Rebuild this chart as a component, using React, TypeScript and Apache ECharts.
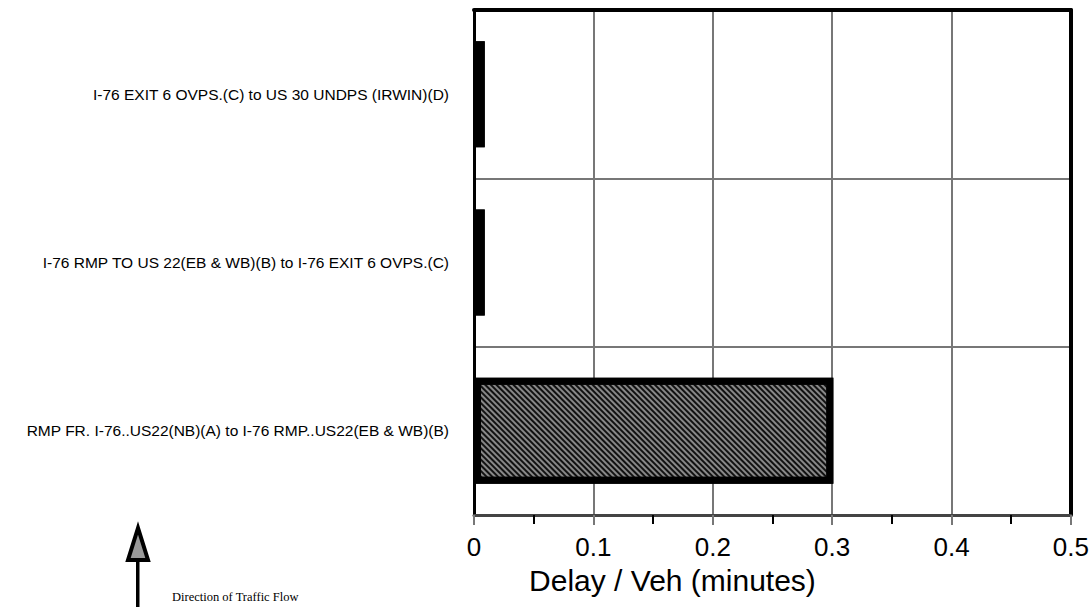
import React, { useEffect, useRef } from "react";
import * as echarts from "echarts";

const categories = [
  "RMP FR. I-76..US22(NB)(A) to I-76 RMP..US22(EB & WB)(B)",
  "I-76 RMP TO US 22(EB & WB)(B) to I-76 EXIT 6 OVPS.(C)",
  "I-76 EXIT 6 OVPS.(C) to US 30 UNDPS (IRWIN)(D)",
];
const delayValues = [0.301, 0.009, 0.009];
const xTicks = [0, 0.1, 0.2, 0.3, 0.4, 0.5];

const SANS = "Liberation Sans, Arial, sans-serif";

export default function App() {
  const ref = useRef<HTMLDivElement>(null);
  useEffect(() => {
    if (!ref.current) return;
    const chart = echarts.init(ref.current, null, { renderer: "svg" });
    chart.setOption({
      animation: false,
      backgroundColor: "#fff",
      grid: { left: 474, right: 19, top: 10, bottom: 92 },
      xAxis: [
        {
          type: "value",
          min: xTicks[0],
          max: xTicks[xTicks.length - 1],
          interval: 0.1,
          name: "Delay / Veh (minutes)",
          nameLocation: "middle",
          nameGap: 50,
          nameTextStyle: { fontSize: 30, color: "#000", fontFamily: SANS, padding: [0, 200, 0, 0] },
          axisLine: { show: true, lineStyle: { color: "#444", width: 3 } },
          axisTick: { show: true, length: 10, lineStyle: { color: "#777", width: 2 } },
          minorTick: { show: true, splitNumber: 2, length: 9, lineStyle: { color: "#000", width: 2 } },
          axisLabel: {
            fontSize: 26,
            color: "#000",
            margin: 19,
            fontFamily: SANS,
            formatter: (v: number) => (v === 0 ? "0" : String(Math.round(v * 10) / 10)),
          },
          splitLine: { show: true, lineStyle: { color: "#777", width: 2 } },
        },
        {
          type: "value",
          position: "top",
          min: xTicks[0],
          max: xTicks[xTicks.length - 1],
          interval: 0.1,
          axisLine: { show: true, onZero: false, lineStyle: { color: "#000", width: 4 } },
          axisTick: { show: false },
          axisLabel: { show: false },
          splitLine: { show: false },
        },
      ],
      yAxis: [
        {
          type: "category",
          data: categories,
          axisLine: { show: true, lineStyle: { color: "#000", width: 3 } },
          axisTick: { show: false },
          axisLabel: { fontSize: 15.5, color: "#000", margin: 25, fontFamily: SANS },
          splitLine: { show: true, lineStyle: { color: "#777", width: 2 } },
        },
        {
          type: "category",
          position: "right",
          data: categories,
          axisLine: { show: true, onZero: false, lineStyle: { color: "#000", width: 4 } },
          axisTick: { show: false },
          axisLabel: { show: false },
          splitLine: { show: false },
        },
      ],
      series: [
        {
          type: "bar",
          data: delayValues,
          barWidth: 106,
          itemStyle: {
            color: "#888",
            borderColor: "#000",
            borderWidth: 7,
            decal: {
              symbol: "rect",
              symbolSize: 1,
              color: "#111",
              dashArrayX: [1, 0],
              dashArrayY: [2, 2],
              rotation: Math.PI / 4,
            },
          },
        },
      ],
      graphic: [
        {
          type: "polygon",
          shape: { points: [[138, 528], [128, 560], [148, 560]] },
          style: { fill: "#999", stroke: "#000", lineWidth: 4 },
        },
        {
          type: "rect",
          shape: { x: 136, y: 561, width: 3.5, height: 46 },
          style: { fill: "#000" },
        },
        {
          type: "text",
          x: 172,
          y: 597,
          style: {
            text: "Direction of Traffic Flow",
            fontSize: 12.5,
            fontFamily: "Liberation Serif, Times New Roman, serif",
            fill: "#000",
            verticalAlign: "middle",
          },
        },
      ],
    });
    return () => chart.dispose();
  }, []);
  return (
    <div
      ref={ref}
      style={{ position: "absolute", left: 0, top: 0, width: 1092, height: 607 }}
    />
  );
}
